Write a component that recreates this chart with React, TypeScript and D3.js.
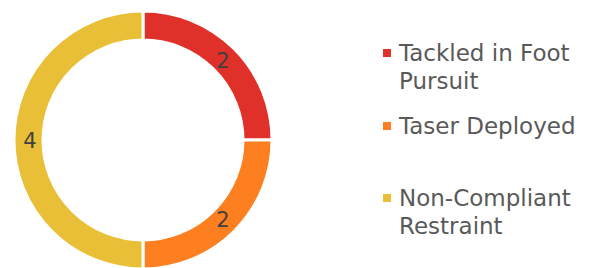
import React from "react";
import * as d3 from "d3";

const categories = ["Tackled in Foot Pursuit", "Taser Deployed", "Non-Compliant Restraint"];
const legendLines = [["Tackled in Foot", "Pursuit"], ["Taser Deployed"], ["Non-Compliant", "Restraint"]];
const values = [2, 2, 4];
const colors = ["#E0302A", "#FD7F1F", "#E8BF37"];

const W = 597;
const H = 268;
const cx = 143;
const cy = 140;
const outerR = 129;
const innerR = 100;
const font = "'DejaVu Sans', sans-serif";

export default function App() {
  const pie = d3.pie<number>().sort(null).value((d) => d);
  const arcs = pie(values);
  const arc = d3.arc<d3.PieArcDatum<number>>().innerRadius(innerR).outerRadius(outerR);
  const labelArc = d3.arc<d3.PieArcDatum<number>>().innerRadius(113).outerRadius(113);

  // legend item anchors (square centre y)
  const legendY = [53, 126, 198];

  return (
    <svg width={W} height={H} style={{ position: "absolute", left: 0, top: 0 }}>
      <g transform={`translate(${cx},${cy})`}>
        {arcs.map((a, i) => (
          <path key={i} d={arc(a) || ""} fill={colors[i]} stroke="#fff" strokeWidth={3} />
        ))}
        {arcs.map((a, i) => {
          const [x, y] = labelArc.centroid(a);
          return (
            <text key={"l" + i} x={x} y={y} dy="0.36em" textAnchor="middle" fontFamily={font} fontSize={21} fill="#404040">
              {values[i]}
            </text>
          );
        })}
      </g>
      {categories.map((c, i) => (
        <g key={c} transform={`translate(383,${legendY[i]})`}>
          <rect x={0} y={-4} width={8} height={8} fill={colors[i]} />
          {legendLines[i].map((t, j) => (
            <text key={j} x={16} y={8 + j * 28} fontFamily={font} fontSize={23} fill="#595959">
              {t}
            </text>
          ))}
        </g>
      ))}
    </svg>
  );
}
